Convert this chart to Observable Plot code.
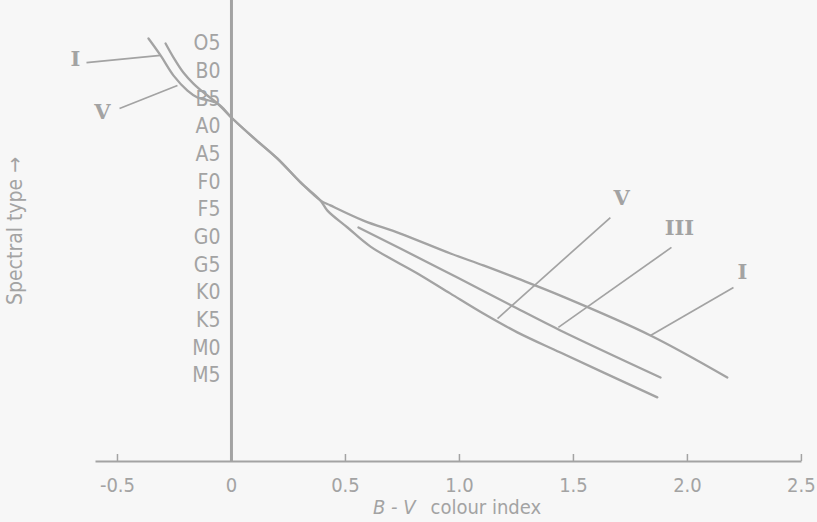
<!DOCTYPE html>
<html><head><meta charset="utf-8">
<script src="https://cdn.jsdelivr.net/npm/d3@7"></script>
<script src="https://cdn.jsdelivr.net/npm/@observablehq/plot@0.6"></script>
<style>
html,body{margin:0;padding:0;background:#f7f7f7;}
</style></head><body><div id="chart"></div>
<script>
// Spectral type sequence (top to bottom) and x-axis ticks
const spectralTypes = ["O5","B0","B5","A0","A5","F0","F5","G0","G5","K0","K5","M0","M5"];
const xTicks = [-0.5, 0, 0.5, 1, 1.5, 2, 2.5];
const xTickLabels = ["-0.5","0","0.5","1.0","1.5","2.0","2.5"];

// Luminosity class I (supergiants): B-V and spectral-type index (O5 = 0)
const bvI = [-0.364,-0.311,-0.254,-0.193,-0.149,-0.061,0.004,0.096,0.202,0.303,0.390,0.434,0.579,0.741,0.961,1.105,1.254,1.443,1.838,2.175];
const spI = [-0.18,0.43,1.16,1.70,1.95,2.17,2.71,3.40,4.16,5.02,5.67,5.85,6.40,6.87,7.59,8.02,8.49,9.11,10.55,12.07];

// Luminosity class III (giants)
const bvIII = [0.557,0.741,0.991,1.254,1.443,1.882];
const spIII = [6.65,7.41,8.46,9.58,10.37,12.07];

// Luminosity class V (main sequence)
const bvV = [-0.289,-0.254,-0.211,-0.167,-0.123,-0.061,0.004,0.096,0.202,0.303,0.390,0.421,0.509,0.610,0.816,0.961,1.105,1.254,1.443,1.868];
const spV = [0.00,0.51,1.05,1.45,1.77,2.17,2.71,3.40,4.16,5.02,5.67,6.04,6.65,7.34,8.31,9.04,9.76,10.44,11.17,12.79];

// Class labels and their pointer lines
const labelNames = ["I","V","V","III","I"];
const labelBV = [-0.684,-0.566,1.711,1.965,2.241];
const labelSp = [0.58,2.49,5.60,6.69,8.28];
const pointerBV1 = [-0.636,-0.491,1.662,1.930,2.202];
const pointerSp1 = [0.69,2.35,6.29,7.37,8.82];
const pointerBV2 = [-0.311,-0.237,1.167,1.434,1.838];
const pointerSp2 = [0.43,1.52,9.94,10.26,10.55];

const gray = "#a3a3a3";
const font = "'DejaVu Sans Condensed','Liberation Sans Narrow','DejaVu Sans',sans-serif";

const series = [
  {name: "I", bv: bvI, sp: spI},
  {name: "III", bv: bvIII, sp: spIII},
  {name: "V", bv: bvV, sp: spV}
];
const lineData = series.flatMap(s => s.bv.map((b, i) => ({series: s.name, bv: b, sp: s.sp[i]})));
const labels = labelNames.map((t, i) => ({t, x: labelBV[i], y: labelSp[i], x1: pointerBV1[i], y1: pointerSp1[i], x2: pointerBV2[i], y2: pointerSp2[i]}));
const spec = spectralTypes.map((t, i) => ({t, i}));

const chart = Plot.plot({
  width: 817, height: 522,
  marginLeft: 96, marginRight: 17, marginTop: 0, marginBottom: 61,
  style: {background: "#f7f7f7", fontFamily: font, color: gray},
  x: {domain: [-0.592, 2.496]},
  y: {domain: [-1.554, 15.107], reverse: true, axis: null},
  marks: [
    Plot.frame({anchor: "bottom", stroke: gray, strokeWidth: 2}),
    Plot.ruleX([0], {stroke: gray, strokeWidth: 3}),
    Plot.axisX(xTicks, {tickSize: 7, dy: -7, tickFormat: () => "", label: null, stroke: gray, strokeWidth: 1.5}),
    Plot.axisX(xTicks, {tickSize: 0, tickPadding: 16, tickFormat: d => xTickLabels[xTicks.indexOf(d)], fontSize: 20, label: null, fill: gray}),
    Plot.text(["Spectral type →"], {frameAnchor: "left", textAnchor: "middle", rotate: -90, dx: -81, fontSize: 21, fill: gray}),
    Plot.text(["B - V"], {frameAnchor: "bottom", dx: -33, dy: 52, textAnchor: "end", fontStyle: "italic", fontSize: 20, fill: gray}),
    Plot.text(["colour index"], {frameAnchor: "bottom", dx: -18, dy: 52, textAnchor: "start", fontSize: 20, fill: gray}),
    Plot.text(spec, {x: 0, y: "i", text: "t", textAnchor: "end", dx: -11, fontSize: 21, fill: gray}),
    Plot.line(lineData, {x: "bv", y: "sp", z: "series", stroke: gray, strokeWidth: 2.3, curve: "catmull-rom"}),
    Plot.link(labels, {x1: "x1", y1: "y1", x2: "x2", y2: "y2", stroke: gray, strokeWidth: 1.7}),
    Plot.text(labels, {x: "x", y: "y", text: "t", fontFamily: "'DejaVu Serif','Liberation Serif',serif", fontWeight: "bold", fontSize: 21, fill: gray})
  ]
});
document.getElementById("chart").appendChild(chart);
</script></body></html>
